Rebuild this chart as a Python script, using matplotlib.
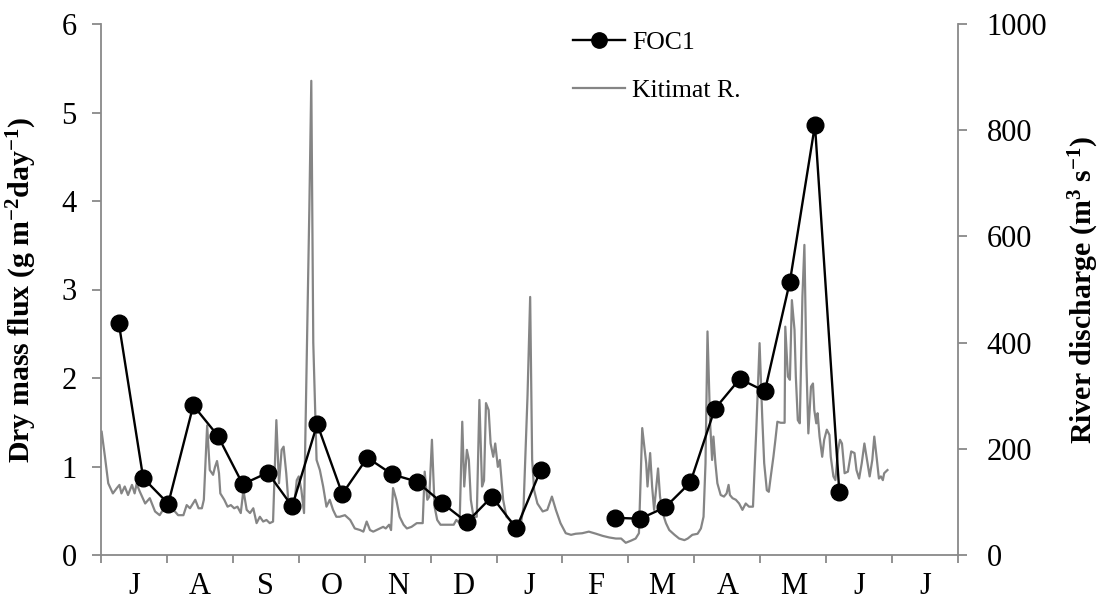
import numpy as np
import matplotlib
matplotlib.use("Agg")
import matplotlib.pyplot as plt
from matplotlib.ticker import FixedLocator, NullFormatter, FixedFormatter

plt.rcParams['font.family'] = ['Liberation Serif', 'DejaVu Serif']
plt.rcParams['mathtext.fontset'] = 'custom'
plt.rcParams['mathtext.rm'] = 'Liberation Serif'
plt.rcParams['mathtext.bf'] = 'Liberation Serif:bold'
plt.rcParams['mathtext.it'] = 'Liberation Serif:italic'

# ---- data ----
month_labels = ['J', 'A', 'S', 'O', 'N', 'D', 'J', 'F', 'M', 'A', 'M', 'J', 'J']

# FOC1 trap samples: time (months since 1 July) and dry mass flux (g m-2 day-1); NaN = gap
foc_month = [0.27, 0.64, 1.02, 1.40, 1.77, 2.15, 2.53, 2.90, 3.28, 3.66, 4.04, 4.42,
             4.79, 5.17, 5.55, 5.93, 6.30, 6.67, np.nan,
             7.80, 8.18, 8.56, 8.94, 9.31, 9.69, 10.07, 10.45, 10.83, 11.20]
foc_flux = [2.62, 0.87, 0.58, 1.69, 1.35, 0.80, 0.93, 0.55, 1.48, 0.69, 1.10, 0.91,
            0.83, 0.59, 0.37, 0.66, 0.30, 0.96, np.nan,
            0.42, 0.41, 0.54, 0.82, 1.65, 1.99, 1.85, 3.09, 4.86, 0.71]

# Kitimat River discharge (m3 s-1)
river_month = [0.01, 0.06, 0.11, 0.18, 0.24, 0.28, 0.31, 0.36, 0.41, 0.47, 0.51, 0.54,
               0.59, 0.67, 0.74, 0.82, 0.89, 0.97, 1.04, 1.10, 1.17, 1.25, 1.30, 1.35,
               1.43, 1.48, 1.53, 1.56, 1.61, 1.65, 1.70, 1.73, 1.76, 1.79, 1.81, 1.87,
               1.92, 1.97, 2.02, 2.07, 2.12, 2.16, 2.21, 2.26, 2.31, 2.36, 2.41, 2.46,
               2.51, 2.56, 2.61, 2.66, 2.70, 2.74, 2.77, 2.81, 2.84, 2.87, 2.92, 2.97,
               3.00, 3.04, 3.08, 3.16, 3.19, 3.22, 3.27, 3.32, 3.37, 3.42, 3.47, 3.52,
               3.57, 3.62, 3.70, 3.78, 3.85, 3.93, 3.98, 4.03, 4.08, 4.13, 4.18, 4.23,
               4.28, 4.32, 4.37, 4.40, 4.43, 4.48, 4.53, 4.59, 4.64, 4.71, 4.79, 4.85,
               4.88, 4.91, 4.95, 4.98, 5.02, 5.06, 5.10, 5.15, 5.22, 5.29, 5.35, 5.39,
               5.44, 5.48, 5.51, 5.55, 5.58, 5.61, 5.65, 5.70, 5.74, 5.78, 5.81, 5.84,
               5.88, 5.91, 5.95, 5.98, 6.02, 6.05, 6.10, 6.15, 6.23, 6.30, 6.37, 6.41,
               6.47, 6.51, 6.54, 6.57, 6.62, 6.70, 6.77, 6.84, 6.90, 6.97, 7.05, 7.13,
               7.20, 7.30, 7.40, 7.51, 7.61, 7.71, 7.81, 7.89, 7.96, 8.04, 8.11, 8.16,
               8.21, 8.27, 8.29, 8.33, 8.36, 8.39, 8.45, 8.48, 8.52, 8.57, 8.62, 8.70,
               8.77, 8.85, 8.90, 8.97, 9.05, 9.10, 9.14, 9.17, 9.20, 9.24, 9.27, 9.29,
               9.32, 9.35, 9.40, 9.45, 9.49, 9.52, 9.54, 9.58, 9.63, 9.68, 9.73, 9.78,
               9.83, 9.89, 9.94, 9.99, 10.03, 10.06, 10.10, 10.13, 10.16, 10.20, 10.23, 10.26,
               10.31, 10.37, 10.38, 10.42, 10.45, 10.48, 10.52, 10.54, 10.57, 10.60, 10.64, 10.67,
               10.70, 10.73, 10.77, 10.80, 10.82, 10.85, 10.87, 10.90, 10.94, 10.97, 11.01, 11.05,
               11.07, 11.11, 11.14, 11.18, 11.21, 11.24, 11.28, 11.33, 11.38, 11.43, 11.46, 11.50,
               11.54, 11.58, 11.62, 11.66, 11.70, 11.73, 11.77, 11.80, 11.83, 11.86, 11.88, 11.93]
river_q = [232, 185, 135, 116, 126, 132, 116, 129, 113, 132, 116, 134,
           119, 97, 107, 82, 75, 91, 107, 85, 75, 75, 94, 88,
           104, 88, 88, 104, 244, 160, 151, 166, 177, 154, 116, 104,
           91, 94, 88, 91, 79, 122, 85, 79, 88, 60, 72, 63,
           66, 60, 63, 254, 135, 198, 204, 154, 104, 88, 82, 141,
           148, 122, 79, 650, 893, 400, 179, 160, 129, 91, 104, 85,
           72, 72, 75, 66, 50, 47, 44, 63, 47, 44, 47, 50,
           53, 50, 57, 47, 126, 104, 72, 57, 50, 53, 60, 60,
           60, 157, 104, 110, 217, 91, 66, 57, 57, 57, 57, 66,
           60, 251, 129, 198, 179, 104, 72, 72, 292, 129, 140, 286,
           273, 210, 185, 210, 166, 179, 104, 72, 63, 60, 60, 91,
           300, 486, 180, 122, 97, 82, 85, 110, 85, 60, 41, 38,
           40, 41, 44, 40, 36, 33, 31, 31, 23, 27, 31, 41,
           239, 173, 129, 192, 129, 85, 163, 110, 79, 60, 47, 38,
           31, 28, 31, 38, 40, 50, 72, 173, 421, 248, 179, 223,
           173, 135, 113, 110, 116, 132, 113, 107, 104, 97, 85, 97,
           91, 91, 235, 399, 261, 173, 122, 119, 148, 185, 217, 251,
           249, 249, 430, 336, 330, 480, 424, 336, 254, 248, 487, 584,
           361, 229, 317, 323, 273, 248, 267, 223, 185, 217, 236, 226,
           185, 148, 141, 198, 217, 210, 154, 157, 195, 192, 160, 144,
           173, 210, 179, 148, 179, 223, 179, 144, 148, 141, 154, 160]

# ---- figure ----
W, H = 1104, 602
fig = plt.figure(figsize=(W / 100, H / 100), dpi=100)
ax = fig.add_axes([101 / W, 1 - 555 / H, (958 - 101) / W, (555 - 24) / H])
ax2 = ax.twinx()

spine_c = '#898989'
river_c = '#858585'

ax2.plot(river_month, river_q, color=river_c, lw=1.6, label='Kitimat R.')
ax.plot(foc_month, foc_flux, color='black', lw=1.7, marker='o', ms=12,
        markerfacecolor='black', markeredgecolor='black', label='FOC1')

# layering: FOC1 over river
ax.set_zorder(ax2.get_zorder() + 1)
ax.patch.set_visible(False)

ax.set_xlim(0, 13)
ax.set_ylim(0, 6)
ax2.set_ylim(0, 1000)

for a in (ax, ax2):
    a.spines['top'].set_visible(False)
    for s in ('left', 'right', 'bottom'):
        a.spines[s].set_color(spine_c)
        a.spines[s].set_linewidth(1.3)

ax.spines['right'].set_visible(False)
ax2.spines['left'].set_visible(False)
ax2.spines['bottom'].set_visible(False)

ax.set_yticks([0, 1, 2, 3, 4, 5, 6])
ax2.set_yticks([0, 200, 400, 600, 800, 1000])

ax.xaxis.set_major_locator(FixedLocator(np.arange(0, 14)))
ax.xaxis.set_major_formatter(NullFormatter())
ax.xaxis.set_minor_locator(FixedLocator(np.arange(13) + 0.5))
ax.xaxis.set_minor_formatter(FixedFormatter(month_labels))
ax.tick_params(axis='x', which='major', direction='out', length=5.5, width=1.3, color=spine_c)
ax.tick_params(axis='x', which='minor', length=0, labelsize=22, pad=12)
ax.tick_params(axis='y', direction='out', length=6.5, width=1.3, color=spine_c, labelsize=22, pad=11)
ax2.tick_params(axis='y', direction='out', length=6.5, width=1.3, color=spine_c, labelsize=22, pad=14)

ax.set_ylabel(r'Dry mass flux (g m$^{\mathbf{-2}}$day$^{\mathbf{-1}}$)', fontsize=21.5, fontweight='bold')
ax.yaxis.set_label_coords(-0.072, 0.5)
ax2.set_ylabel(r'River discharge (m$^{\mathbf{3}}$ s$^{\mathbf{-1}}$)', fontsize=21.5, fontweight='bold')
ax2.yaxis.set_label_coords(1.127, 0.5)

h1, l1 = ax.get_legend_handles_labels()
h2, l2 = ax2.get_legend_handles_labels()
fig.legend(h1 + h2, l1 + l2, loc='upper left', bbox_to_anchor=(573 / W, 1 - 31 / H),
           frameon=False, fontsize=18.5, handlelength=2.02, handletextpad=0.27,
           labelspacing=0.96, borderpad=0, borderaxespad=0, markerscale=0.92)

fig.savefig('out.png', dpi=100)
